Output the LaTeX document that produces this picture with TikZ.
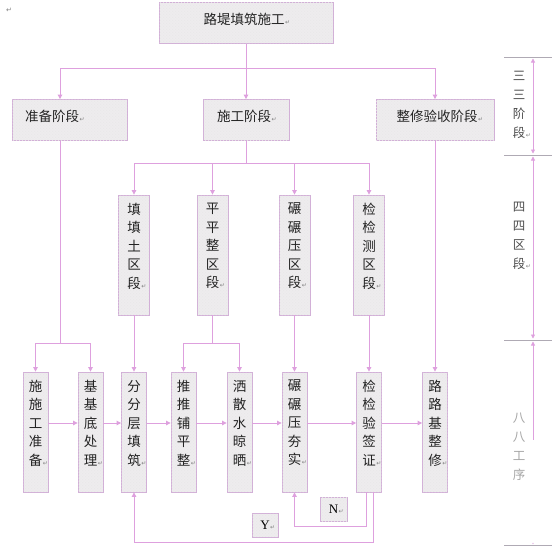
\documentclass[tikz,border=0pt]{standalone}
\usepackage{fontspec}
\newfontfamily\cjk{Noto Sans CJK SC}
\newfontfamily\dejavu{DejaVu Sans}
\newfontfamily\tnr{Liberation Serif}
\usetikzlibrary{arrows.meta,patterns}
\definecolor{lnc}{RGB}{222,160,222}
\definecolor{bdc}{RGB}{210,175,215}
\definecolor{fillc}{RGB}{238,236,238}
\definecolor{txc}{RGB}{35,35,35}
\definecolor{tickc}{RGB}{175,170,180}
\newcommand{\retm}{\rlap{\kern0.5pt\fontsize{6}{6}\selectfont\dejavu\textcolor{gray}{↵}}}
\begin{document}
\begin{tikzpicture}[x=1pt,y=-1pt,
  boxs/.style={draw=bdc,line width=0.8pt,fill=fillc,postaction={pattern=crosshatch dots,pattern color=gray!18},inner sep=0pt},
  hbox/.style={boxs,minimum height=41pt},
  vbox3/.style={boxs,minimum width=31pt,minimum height=120pt},
  vboxb/.style={boxs,minimum width=25pt,minimum height=120pt},
  txt/.style={font=\cjk\fontsize{13.5}{18.5}\selectfont,text=txc,inner sep=0pt,align=center},
  side/.style={font=\cjk\fontsize{12.5}{19}\selectfont,text=black!70,inner sep=0pt,align=center},
  ln/.style={draw=lnc,line width=0.8pt},
  arr/.style={ln,-{Triangle[width=4.5pt,length=4.5pt]}},
  darr/.style={ln,{Triangle[width=4pt,length=4pt]}-{Triangle[width=4pt,length=4pt]}},
  sarr/.style={ln,{Triangle[width=4pt,length=4pt]}-},
  tk/.style={draw=tickc,line width=0.7pt},
]
\useasboundingbox (0,0) rectangle (560,550);
\fill[white] (0,0) rectangle (560,550);

\node[inner sep=0pt,font=\fontsize{7}{7}\selectfont\dejavu,text=gray] (mark) at (9,10) {↵};

% top
\node[hbox,minimum width=174pt] (top) at (246,23) {};
\node[txt] (ttop) at (244,19) {路堤填筑施工\retm};

% level 2
\node[hbox,minimum width=115pt] (prep) at (69.5,120) {};
\node[txt,anchor=west] (tprep) at (25,116) {准备阶段\retm};
\node[hbox,minimum width=86pt] (cons) at (246,120) {};
\node[txt] (tcons) at (244,116) {施工阶段\retm};
\node[hbox,minimum width=118pt] (fin) at (435,120) {};
\node[txt] (tfin) at (437,116) {整修验收阶段\retm};

% level 3
\node[vbox3] (s1) at (134,255) {};
\node[vbox3] (s2) at (212.5,255) {};
\node[vbox3] (s3) at (294.5,255) {};
\node[vbox3] (s4) at (369,255) {};
\node[txt] (ts1) at (134,246) {填\\填\\土\\区\\段\retm};
\node[txt] (ts2) at (212.5,246) {平\\平\\整\\区\\段\retm};
\node[txt] (ts3) at (294.5,246) {碾\\碾\\压\\区\\段\retm};
\node[txt] (ts4) at (369,246) {检\\检\\测\\区\\段\retm};

% bottom row
\node[vboxb] (p1) at (35.5,432) {};
\node[vboxb] (p2) at (90.5,432) {};
\node[vboxb] (p3) at (134,432) {};
\node[vboxb] (p4) at (183.5,432) {};
\node[vboxb] (p5) at (239.5,432) {};
\node[vboxb] (p6) at (294.5,432) {};
\node[vboxb] (p7) at (369,432) {};
\node[vboxb] (p8) at (435,432) {};
\node[txt] (tp1) at (35.5,423) {施\\施\\工\\准\\备\retm};
\node[txt] (tp2) at (90.5,423) {基\\基\\底\\处\\理\retm};
\node[txt] (tp3) at (134,423) {分\\分\\层\\填\\筑\retm};
\node[txt] (tp4) at (183.5,423) {推\\推\\铺\\平\\整\retm};
\node[txt] (tp5) at (239.5,423) {洒\\散\\水\\晾\\晒\retm};
\node[txt] (tp6) at (294.5,423) {碾\\碾\\压\\夯\\实\retm};
\node[txt] (tp7) at (369,423) {检\\检\\验\\签\\证\retm};
\node[txt] (tp8) at (435,423) {路\\路\\基\\整\\修\retm};

% Y / N labels
\node[boxs,minimum width=27pt,minimum height=24pt,font=\tnr\fontsize{13}{13}\selectfont] (nbox) at (333.5,509) {N\retm};
\node[boxs,minimum width=26pt,minimum height=24pt,font=\tnr\fontsize{13}{13}\selectfont] (ybox) at (265,525) {Y\retm};

% connectors from top
\coordinate (j0) at (246,68);
\draw[ln] (top.south) -- (j0);
\draw[arr] (j0) -| ([xshift=-9.5pt]prep.north);
\draw[arr] (j0) -- (cons.north);
\draw[arr] (j0) -| (fin.north);

% from construction stage
\coordinate (j1) at (246,163);
\draw[ln] (cons.south) -- (j1);
\draw[arr] (j1) -| (s1.north);
\draw[arr] (j1) -| (s2.north);
\draw[arr] (j1) -| (s3.north);
\draw[arr] (j1) -| (s4.north);

% from preparation
\coordinate (j2) at (60,343);
\draw[ln] ([xshift=-9.5pt]prep.south) -- (j2);
\draw[arr] (j2) -| (p1.north);
\draw[arr] (j2) -| (p2.north);

% level 3 down
\draw[arr] (s1.south) -- (p3.north);
\coordinate (j3) at (212.5,343);
\draw[ln] (s2.south) -- (j3);
\draw[arr] (j3) -| (p4.north);
\draw[arr] (j3) -| (p5.north);
\draw[arr] (s3.south) -- (p6.north);
\draw[arr] (s4.south) -- (p7.north);
\draw[arr] (fin.south) -- (p8.north);

% bottom chain
\foreach \a/\b in {p1/p2,p2/p3,p3/p4,p4/p5,p5/p6,p6/p7,p7/p8}
  \draw[arr] ([yshift=9pt]\a.east) -- ([yshift=9pt]\b.west);

% loops
\draw[arr] ([xshift=-3pt]p7.south) -- ++(0,34) -| (p6.south);
\draw[arr] ([xshift=4pt]p7.south) -- ++(0,50) -| (p3.south);

% right side scale
\coordinate (r1) at (533,57);
\coordinate (r2) at (533,155);
\coordinate (r3) at (533,340);
\coordinate (r4) at (533,440);
\coordinate (r5) at (533,545);
\foreach \yy in {57,155,340,545} \draw[tk] (504,\yy) -- (552,\yy);
\draw[darr] ([yshift=-1.5pt]r1) -- ([yshift=1.5pt]r2);
\draw[darr] ([yshift=-1.5pt]r2) -- ([yshift=1.5pt]r3);
\draw[sarr] ([yshift=-1.5pt]r3) -- (r4);
\fill[lnc!60] ([yshift=1.5pt]r5) circle (0.9pt);
\node[side] (l1) at (519,105) {三\\三\\阶\\段\retm};
\node[side] (l2) at (519,236) {四\\四\\区\\段\retm};
\node[side,text=black!35] (l3) at (519,447) {八\\八\\工\\序};
\end{tikzpicture}
\end{document}
